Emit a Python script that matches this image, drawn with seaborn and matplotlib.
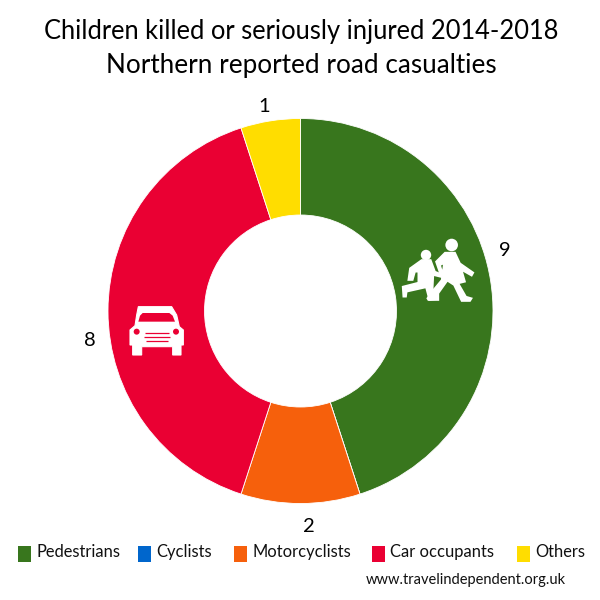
import matplotlib
matplotlib.use('Agg')
import matplotlib.pyplot as plt
from matplotlib.patches import Polygon, Circle, Rectangle
import seaborn as sns

categories = ['Pedestrians', 'Cyclists', 'Motorcyclists', 'Car occupants', 'Others']
values = [9, 0, 2, 8, 1]
colours = ['#38761d', '#0066cc', '#f6600c', '#ea0033', '#ffdd00']
title_lines = ['Children killed or seriously injured 2014-2018', 'Northern reported road casualties']
source = 'www.travelindependent.org.uk'

sns.set_theme(style='white')
plt.rcParams['font.family'] = ['Lato', 'DejaVu Sans']

H = 600


def py(y):
    # picture rows count from the top
    return H - y


def from_zoom(points, x0, y0):
    return [(x0 + x / 3, py(y0 + y / 3)) for x, y in points]


fig = plt.figure(figsize=(6, 6), dpi=100)
ax = fig.add_axes([0, 0, 1, 1])

ax.pie(values, colors=sns.color_palette(colours), startangle=90, counterclock=False,
       center=(300.5, py(311)), radius=192.5,
       wedgeprops=dict(width=96.5, edgecolor='white', linewidth=0.6))
ax.set_xlim(0, 600)
ax.set_ylim(0, 600)
ax.axis('off')

# title
ax.text(301, py(31), title_lines[0], ha='center', va='center', fontsize=18.4, color='black')
ax.text(301, py(65), title_lines[1], ha='center', va='center', fontsize=18.8, color='black')

# value labels
label_pos = {0: (505, 251), 2: (309, 526), 3: (90, 340), 4: (264, 106)}
for i, (x, y) in label_pos.items():
    ax.text(x, py(y), str(values[i]), ha='center', va='center', fontsize=14.5, color='black')

# legend
square_x = [18, 138, 234, 372, 517]
for x, name, col in zip(square_x, categories, colours):
    ax.add_patch(Rectangle((x, py(562)), 13, 16, facecolor=col, edgecolor='none'))
    ax.text(x + 18, py(552), name, ha='left', va='center', fontsize=11.9, color='#111111')

ax.text(366, py(580), source, ha='left', va='center', fontsize=10.5, color='#111111')

# children sign
child_big = [(165, 68), (195, 68), (210, 100), (250, 128), (245, 137), (215, 120), (225, 155),
             (205, 160), (228, 200), (245, 205), (240, 213), (215, 213), (192, 165), (172, 152),
             (145, 190), (145, 210), (115, 210), (112, 205), (130, 180), (155, 150), (162, 100),
             (150, 105), (155, 122), (160, 128), (150, 130), (138, 95)]
child_small = [(95, 90), (122, 90), (135, 125), (160, 135), (158, 142), (130, 135), (128, 175),
               (135, 208), (118, 210), (108, 172), (50, 185), (48, 200), (40, 200), (38, 170),
               (85, 158), (85, 125), (75, 125), (68, 150), (55, 150), (60, 115)]
ax.add_patch(Polygon(from_zoom(child_big, 390, 230), facecolor='white', edgecolor='white', lw=1.2))
ax.add_patch(Polygon(from_zoom(child_small, 390, 230), facecolor='white', edgecolor='white', lw=1.2))
ax.add_patch(Circle((390 + 185 / 3, py(230 + 45 / 3)), 6.3, facecolor='white', edgecolor='none'))
ax.add_patch(Circle((390 + 108 / 3, py(230 + 75 / 3)), 5.2, facecolor='white', edgecolor='none'))

# car sign
car_body = [(55, 35), (155, 35), (170, 60), (178, 95), (190, 105), (190, 150), (183, 150),
            (183, 180), (158, 180), (158, 155), (65, 155), (65, 180), (38, 180), (38, 150),
            (30, 150), (30, 105), (45, 92), (50, 60)]
car_glass = [(68, 54), (148, 54), (158, 62), (165, 80), (55, 80), (60, 62)]
ax.add_patch(Polygon(from_zoom(car_body, 120, 295), facecolor='white', edgecolor='white', lw=0.8))
ax.add_patch(Polygon(from_zoom(car_glass, 120, 295), facecolor=colours[3], edgecolor='none'))
for cx in (50, 168):
    ax.add_patch(Circle((120 + cx / 3, py(295 + 110 / 3)), 3, facecolor=colours[3], edgecolor='none'))
for gy, x1, x2 in [(114, 75, 148), (127, 72, 150), (139, 78, 145)]:
    ax.plot([120 + x1 / 3, 120 + x2 / 3], [py(295 + gy / 3)] * 2, color=colours[3], lw=0.9,
            solid_capstyle='butt')

fig.savefig('out.png', dpi=100)
